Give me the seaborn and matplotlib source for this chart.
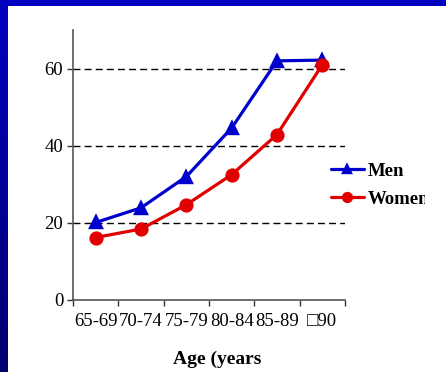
import numpy as np
import pandas as pd
import matplotlib
matplotlib.use("Agg")
import matplotlib.pyplot as plt
from matplotlib.colors import LinearSegmentedColormap
from matplotlib.transforms import Bbox
import seaborn as sns

# Percentage by age group
age_groups = ["65-69", "70-74", "75-79", "80-84", "85-89", "\u25a190"]
men = [20.1, 23.9, 32.0, 44.6, 62.0, 62.2]
women = [16.2, 18.4, 24.7, 32.5, 42.9, 61.0]
y_ticks = [0, 20, 40, 60]
x_title = "Age (years"

sns.set_theme(style="white")
plt.rcParams["font.family"] = ["Liberation Serif", "DejaVu Serif"]
plt.rcParams["text.color"] = "black"
plt.rcParams["axes.labelcolor"] = "black"
plt.rcParams["xtick.color"] = "black"
plt.rcParams["ytick.color"] = "black"

df = pd.DataFrame({
    "age": age_groups * 2,
    "pct": men + women,
    "sex": ["Men"] * len(men) + ["Women"] * len(women),
})

W, H = 446, 372
fig = plt.figure(figsize=(W / 100, H / 100), dpi=100)
fig.patch.set_facecolor("white")

# Blue frame: solid top band, gradient left band
top = fig.add_axes([0, 1 - 6 / H, 1, 6 / H])
top.set_facecolor("#0000C0")
top.set_xticks([]); top.set_yticks([])
for s in top.spines.values():
    s.set_visible(False)

left = fig.add_axes([0, 0, 8 / W, 1])
grad = np.linspace(0, 1, 256).reshape(-1, 1)
cmap = LinearSegmentedColormap.from_list("frame", ["#0000C0", "#000070"])
left.imshow(grad, aspect="auto", cmap=cmap, extent=[0, 1, 1, 0])
left.set_axis_off()

ax = fig.add_axes([73 / W, 1 - 300 / H, 272 / W, 270 / H])

palette = {"Men": "#0000CC", "Women": "#E00000"}
sns.pointplot(
    data=df, x="age", y="pct", hue="sex", order=age_groups,
    hue_order=["Men", "Women"], palette=palette, markers=["^", "o"],
    linestyles="-", errorbar=None, markersize=8.5, linewidth=2.3, ax=ax,
)

# Dashed reference lines
for yv in y_ticks[1:]:
    ax.axhline(yv, color="black", lw=1.0, dashes=(5, 3), zorder=0.5)

ax.set_ylim(0, 70)
ax.set_xlim(-0.5, len(age_groups) - 0.5)
ax.set_yticks(y_ticks)
ax.set_yticklabels([str(v) for v in y_ticks], fontsize=13.5)

# Category boundaries carry the ticks, labels sit between them
ax.set_xticks(np.arange(-0.5, len(age_groups), 1.0))
ax.set_xticklabels([])
ax.set_xticks(np.arange(len(age_groups)), minor=True)
ax.set_xticklabels(age_groups, minor=True, fontsize=13.5)
ax.tick_params(axis="x", which="major", direction="out", length=4,
               width=1, color="#333333", bottom=True)
ax.tick_params(axis="x", which="minor", length=0, pad=9)
ax.tick_params(axis="y", direction="out", length=4, width=1,
               color="#333333", left=True, pad=3)

for side in ["top", "right"]:
    ax.spines[side].set_visible(False)
for side in ["left", "bottom"]:
    ax.spines[side].set_color("#555555")
    ax.spines[side].set_linewidth(1.2)

ax.set_ylabel("")
ax.set_xlabel(x_title, fontsize=14, fontweight="bold")
ax.xaxis.label.set_va("center")
ax.xaxis.set_label_coords(0.529, -0.2185)

handles, labels = ax.get_legend_handles_labels()
leg = ax.legend(
    handles, labels, loc="center left", bbox_to_anchor=(0.885, 0.425),
    frameon=False, handlelength=1.8, handletextpad=0.2, labelspacing=0.6,
    markerscale=0.75, prop={"weight": "bold", "size": 13.5},
)
# The legend box is cut off a little before the right edge
clip = Bbox.from_extents(0, 0, 425, H)
for t in leg.get_texts():
    t.set_clip_box(clip)
    t.set_clip_on(True)

fig.savefig("out.png", dpi=100)
